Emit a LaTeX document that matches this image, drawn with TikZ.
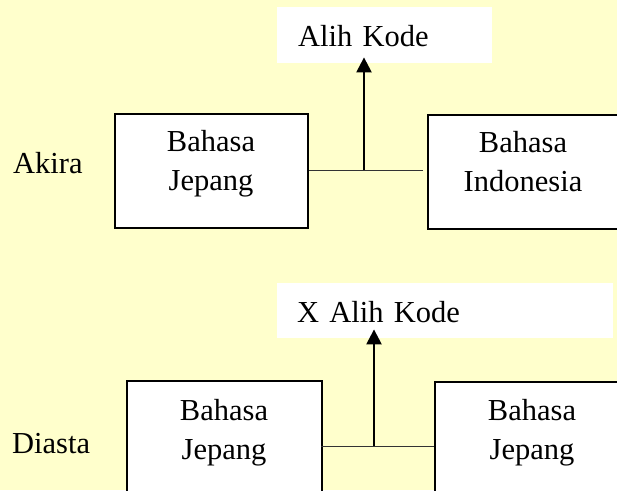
\documentclass[tikz,border=0pt]{standalone}
\usepackage{fontspec}
\setmainfont{Liberation Serif}
\usetikzlibrary{arrows.meta}
\definecolor{bgyellow}{HTML}{FFFFCC}
\definecolor{linkgray}{HTML}{333333}
\tikzset{
  bx/.style={draw=black, line width=2pt, fill=white, anchor=north west, inner sep=0pt},
  tag/.style={fill=white, anchor=north west, inner ysep=0pt, align=left,
    font=\fontsize{30.5}{39}\selectfont},
  txt/.style={inner sep=0pt, align=center, anchor=north,
    font=\fontsize{30.5}{39.5}\selectfont},
  side/.style={inner sep=0pt, anchor=base west, font=\fontsize{30.5}{39}\selectfont},
  link/.style={draw=linkgray, line width=1pt},
  arr/.style={-{Triangle[width=15pt,length=15pt]}, line width=2.4pt}
}
\begin{document}
\begin{tikzpicture}[x=1pt,y=-1pt]
\fill[bgyellow] (0,0) rectangle (617,490);
\useasboundingbox (0,0) rectangle (617,490);
\clip (0,0) rectangle (617,490);

% top group
\node[tag, text width=173pt, inner xsep=21pt, text height=39pt, text depth=17pt] (ak) at (277,7) {Alih Kode};
\node[bx, minimum width=193pt, minimum height=114pt] (lj) at (114,113) {};
\node[bx, minimum width=210pt, minimum height=114pt] (ri) at (427,114) {};
\node[txt] (tlj) at (211,130) {Bahasa\\Jepang};
\node[txt] (tri) at (523,131) {Bahasa\\Indonesia};
\node[side] (akira) at (13,173) {Akira};
\coordinate (j1) at (364,170);
\draw[link] (lj.east |- j1) -- (423,170);
\draw[arr] (j1) -- ([yshift=6pt]ak.south -| j1);

% bottom group
\node[tag, text width=296pt, inner xsep=20pt, text height=39pt, text depth=16pt] (xak) at (277,283) {X Alih Kode};
\node[bx, minimum width=195pt, minimum height=160pt] (lj2) at (126,380) {};
\node[bx, minimum width=210pt, minimum height=160pt] (rj2) at (434,381) {};
\node[txt] (tlj2) at (224,399) {Bahasa\\Jepang};
\node[txt] (trj2) at (532,399) {Bahasa\\Jepang};
\node[side] (diasta) at (12,453) {Diasta};
\coordinate (j2) at (374,446);
\draw[link] (321,446) -- (rj2.west |- j2);
\draw[arr] (j2) -- ([yshift=9pt]xak.south -| j2);
\end{tikzpicture}
\end{document}
